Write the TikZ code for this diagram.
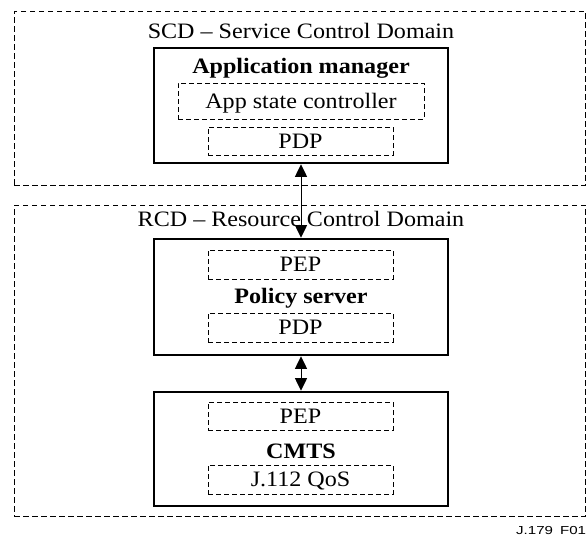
\documentclass[tikz,border=0pt]{standalone}
\usepackage{fontspec}
\setmainfont[FakeStretch=1.095]{Liberation Serif}
\newfontfamily\labelfont[FakeStretch=1.3]{Liberation Sans}
\usetikzlibrary{arrows.meta}

\tikzset{
  domainbox/.style={draw, line width=1pt, dash pattern=on 5.5pt off 3.5pt,
    minimum width=571.5pt, inner sep=0pt},
  entitybox/.style={draw, line width=2.6pt, minimum width=294pt, inner sep=0pt},
  subbox/.style={draw, line width=1pt, dash pattern=on 5pt off 3pt, inner sep=0pt,
    text height=14.6pt, text depth=0pt,
    font=\fontsize{22}{26}\selectfont},
  domainlabel/.style={anchor=base, inner sep=0pt, font=\fontsize{22}{26}\selectfont},
  entitylabel/.style={anchor=base, inner sep=0pt, font=\fontsize{22}{26}\selectfont\bfseries},
  link/.style={line width=1pt, {Triangle[length=12.5pt,width=12pt]}-{Triangle[length=12.5pt,width=12pt]}},
}

\begin{document}
\begin{tikzpicture}[x=1pt, y=-1pt]
  \useasboundingbox (0,0) rectangle (586,536);
  \clip (0,0) rectangle (586,536);

  % Service control domain
  \node[domainbox, minimum height=174pt] (scd) at (299.75,98) {};
  \node[domainlabel] (scdlabel) at (301,38.5) {SCD -- Service Control Domain};
  \node[entitybox, minimum height=115pt] (app) at (301,105.5) {};
  \node[entitylabel] (apptitle) at (301,73.5) {Application manager};
  \node[subbox, minimum width=246pt, minimum height=36pt] (asc) at (301,101) {App state controller};
  \node[subbox, minimum width=185pt, minimum height=28pt] (pdpa) at (300.5,141) {PDP};

  % Resource control domain
  \node[domainbox, minimum height=311pt] (rcd) at (299.75,360.5) {};
  \node[domainlabel] (rcdlabel) at (301,226.5) {RCD -- Resource Control Domain};

  \node[entitybox, minimum height=116pt] (pol) at (301,297) {};
  \node[subbox, minimum width=185pt, minimum height=29pt] (pepa) at (300.5,264.5) {PEP};
  \node[entitylabel] (poltitle) at (301,303.5) {Policy server};
  \node[subbox, minimum width=185pt, minimum height=29pt] (pdpb) at (300.5,327.5) {PDP};

  \node[entitybox, minimum height=114pt] (cmts) at (301,449) {};
  \node[subbox, minimum width=185pt, minimum height=28pt] (pepb) at (300.5,416) {PEP};
  \node[entitylabel] (cmtstitle) at (301,458.5) {CMTS};
  \node[subbox, minimum width=185pt, minimum height=29pt] (qos) at (300.5,479.5) {J.112 QoS};

  % Interfaces
  \draw[link] (app.south) -- (pol.north);
  \draw[link] (pol.south) -- (cmts.north);

  % Figure tag
  \node[anchor=base west, inner sep=0pt, font=\labelfont\fontsize{11.6}{13}\selectfont] (tag) at (516,534.5) {J.179\hspace{0.6em}F01};
\end{tikzpicture}
\end{document}
